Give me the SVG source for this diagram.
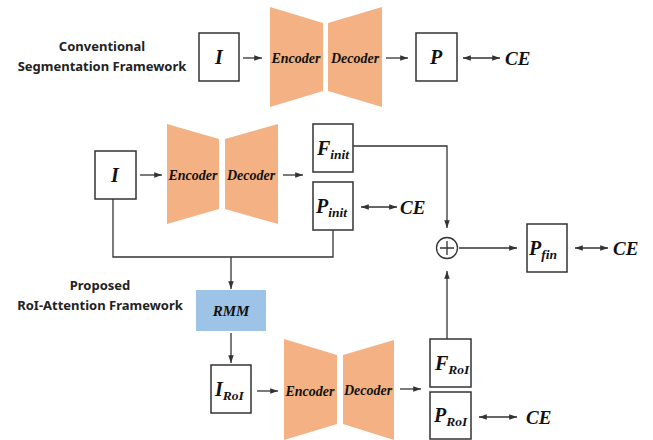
<svg xmlns="http://www.w3.org/2000/svg" width="653" height="440" viewBox="0 0 653 440">
<style>
.box{fill:#fff;stroke:#333;stroke-width:1.5}
.trap{fill:#F4B183}
.lbl{font-family:"Noto Sans","Liberation Sans",sans-serif;font-weight:bold;font-size:13px;fill:#222}
.m{font-family:"Liberation Serif",serif;font-weight:bold;font-style:italic;fill:#111}
.ed{font-size:14px}
.v{font-size:20px}
.s{font-size:13.5px}
.ce{font-size:19px}
.ln{fill:none;stroke:#333;stroke-width:1.3}
</style>
<defs>
<marker id="ah" viewBox="0 0 10 10" refX="10" refY="5" markerWidth="6" markerHeight="6" orient="auto-start-reverse">
<path d="M0,1.5 L10,5 L0,8.5 z" fill="#333"/>
</marker>
</defs>
<rect width="653" height="440" fill="#fff"/>
<g id="title-conv">
<text class="lbl" x="102" y="51" text-anchor="middle">Conventional</text>
<text class="lbl" x="102" y="71" text-anchor="middle">Segmentation Framework</text>
</g>
<g id="title-prop">
<text class="lbl" x="100" y="290" text-anchor="middle">Proposed</text>
<text class="lbl" x="100" y="310" text-anchor="middle">RoI-Attention Framework</text>
</g>
<g id="I1"><rect class="box" x="199" y="33" width="40" height="48"/><text class="m v" x="219" y="64" text-anchor="middle">I</text></g>
<g id="enc1"><polygon class="trap" points="270,7 323,23 323,91 270,107"/><text class="m ed" x="296" y="63" text-anchor="middle">Encoder</text></g>
<g id="dec1"><polygon class="trap" points="328,23 382,7 382,107 328,91"/><text class="m ed" x="355" y="63" text-anchor="middle">Decoder</text></g>
<g id="P1"><rect class="box" x="416" y="33" width="41" height="48"/><text class="m v" x="436" y="64" text-anchor="middle">P</text></g>
<g id="CE1"><text class="m ce" x="505" y="65">CE</text></g>

<g id="I2"><rect class="box" x="95" y="151" width="41" height="48"/><text class="m v" x="115" y="182" text-anchor="middle">I</text></g>
<g id="enc2"><polygon class="trap" points="167,124 219,139 219,209 167,224"/><text class="m ed" x="193" y="180" text-anchor="middle">Encoder</text></g>
<g id="dec2"><polygon class="trap" points="225,139 278,124 278,224 225,209"/><text class="m ed" x="251" y="180" text-anchor="middle">Decoder</text></g>
<g id="Finit"><rect class="box" x="313" y="124" width="40" height="48"/><text class="m" x="317" y="155"><tspan class="v">F</tspan><tspan class="s" dy="4">init</tspan></text></g>
<g id="Pinit"><rect class="box" x="313" y="182" width="40" height="48"/><text class="m" x="316" y="213"><tspan class="v">P</tspan><tspan class="s" dy="4">init</tspan></text></g>
<g id="CE2"><text class="m ce" x="400" y="214">CE</text></g>
<g id="plus"><circle cx="447" cy="248" r="10.5" fill="#fff" stroke="#333" stroke-width="1.3"/><path class="ln" d="M440,248 H454 M447,241 V255"/></g>
<g id="Pfin"><rect class="box" x="527" y="224" width="40" height="48"/><text class="m" x="529" y="255"><tspan class="v">P</tspan><tspan class="s" dy="4">fin</tspan></text></g>
<g id="CE3"><text class="m ce" x="613" y="255">CE</text></g>
<g id="RMM"><rect x="196" y="290" width="70" height="41" fill="#9DC3E6"/><text class="m" font-size="15" x="231" y="316" text-anchor="middle">RMM</text></g>
<g id="IRoI"><rect class="box" x="211" y="365" width="40" height="48"/><text class="m" x="215" y="396"><tspan class="v">I</tspan><tspan class="s" dy="4">RoI</tspan></text></g>
<g id="enc3"><polygon class="trap" points="284,339 337,355 337,424 284,440"/><text class="m ed" x="310" y="396" text-anchor="middle">Encoder</text></g>
<g id="dec3"><polygon class="trap" points="343,355 394,340 394,440 343,424"/><text class="m ed" x="368" y="395" text-anchor="middle">Decoder</text></g>
<g id="FRoI"><rect class="box" x="430" y="339" width="41" height="48"/><text class="m" x="435" y="370"><tspan class="v">F</tspan><tspan class="s" dy="4">RoI</tspan></text></g>
<g id="PRoI"><rect class="box" x="430" y="392" width="41" height="47"/><text class="m" x="434" y="422"><tspan class="v">P</tspan><tspan class="s" dy="4">RoI</tspan></text></g>
<g id="CE4"><text class="m ce" x="526" y="424">CE</text></g>

<g id="connectors">
<path class="ln" d="M243,58 H262" marker-end="url(#ah)"/>
<path class="ln" d="M386,58 H408" marker-end="url(#ah)"/>
<path class="ln" d="M463,58 H500" marker-start="url(#ah)" marker-end="url(#ah)"/>
<path class="ln" d="M140,175 H162" marker-end="url(#ah)"/>
<path class="ln" d="M283,175 H303" marker-end="url(#ah)"/>
<path class="ln" d="M353,146 H447 V228" marker-end="url(#ah)"/>
<path class="ln" d="M361,207 H397" marker-start="url(#ah)" marker-end="url(#ah)"/>
<path class="ln" d="M459,248 H517" marker-end="url(#ah)"/>
<path class="ln" d="M575,248 H608" marker-start="url(#ah)" marker-end="url(#ah)"/>
<path class="ln" d="M113,199 V257 H333 V230"/>
<path class="ln" d="M231,257 V289" marker-end="url(#ah)"/>
<path class="ln" d="M231,333 V363" marker-end="url(#ah)"/>
<path class="ln" d="M257,391 H278" marker-end="url(#ah)"/>
<path class="ln" d="M400,389 H421" marker-end="url(#ah)"/>
<path class="ln" d="M447,339 V271" marker-end="url(#ah)"/>
<path class="ln" d="M479,417 H517" marker-start="url(#ah)" marker-end="url(#ah)"/>
</g>
</svg>
